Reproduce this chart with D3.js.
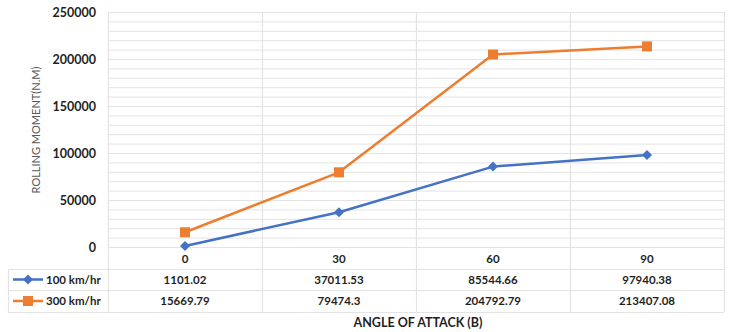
<!DOCTYPE html>
<html>
<head>
<meta charset="utf-8">
<script src="https://cdn.jsdelivr.net/npm/d3@7"></script>
<style>
  html, body { margin: 0; padding: 0; background: #fff; }
  svg { display: block; font-family: Lato, "Open Sans", sans-serif; }
</style>
</head>
<body>
<svg id="chart" width="729" height="332"></svg>
<script>
// Angle of attack categories and rolling moment series
const categories = ["0", "30", "60", "90"];
const seriesNames = ["100 km/hr", "300 km/hr"];
const speed100 = [1101.02, 37011.53, 85544.66, 97940.38];
const speed300 = [15669.79, 79474.3, 204792.79, 213407.08];
const yTicks = [0, 50000, 100000, 150000, 200000, 250000];
const colors = ["#4472C4", "#ED7D31"];
const valueLabels = [
  ["1101.02", "37011.53", "85544.66", "97940.38"],
  ["15669.79", "79474.3", "204792.79", "213407.08"]
];

const series = [
  { name: seriesNames[0], values: speed100, labels: valueLabels[0], color: colors[0], marker: "diamond" },
  { name: seriesNames[1], values: speed300, labels: valueLabels[1], color: colors[1], marker: "square" }
];

const svg = d3.select("#chart");
const plot = { left: 108, right: 724, top: 12, bottom: 247 };
const tableLeft = 8;
const rowLines = [269, 290, 312];
const gridColor = "#e3e3e3";

const x = d3.scaleBand().domain(categories).range([plot.left, plot.right]).padding(0);
const y = d3.scaleLinear().domain([0, 250000]).range([plot.bottom, plot.top]);

// Horizontal gridlines every 10000
const minor = d3.range(0, 250001, 10000);
svg.append("g").selectAll("line").data(minor).join("line")
  .attr("x1", plot.left).attr("x2", plot.right)
  .attr("y1", d => y(d) + 0.5).attr("y2", d => y(d) + 0.5)
  .attr("stroke", gridColor).attr("stroke-width", 1);

// Vertical category boundaries, running through the data table
const bounds = categories.map(c => x(c)).concat([plot.right]);
svg.append("g").selectAll("line").data(bounds).join("line")
  .attr("x1", d => d + 0.5).attr("x2", d => d + 0.5)
  .attr("y1", plot.top).attr("y2", rowLines[2])
  .attr("stroke", gridColor).attr("stroke-width", 1.2);

// Table rows
svg.append("g").selectAll("line").data(rowLines).join("line")
  .attr("x1", tableLeft).attr("x2", plot.right)
  .attr("y1", d => d + 0.5).attr("y2", d => d + 0.5)
  .attr("stroke", gridColor).attr("stroke-width", 1.2);
svg.append("line")
  .attr("x1", tableLeft + 0.5).attr("x2", tableLeft + 0.5)
  .attr("y1", rowLines[0]).attr("y2", rowLines[2])
  .attr("stroke", gridColor).attr("stroke-width", 1.2);

// Y axis tick labels
const yAxis = d3.axisLeft(y).tickValues(yTicks).tickSize(0).tickPadding(0).tickFormat(d3.format("d"));
const gy = svg.append("g").attr("transform", `translate(96,0)`).call(yAxis);
gy.select(".domain").remove();
gy.selectAll("text")
  .attr("fill", "#1f1f1f").attr("font-size", 12.5).attr("font-weight", 700)
  .attr("font-family", "Lato, sans-serif");

// Category labels in the first table row
const xAxis = d3.axisBottom(x).tickSize(0).tickPadding(0);
const gx = svg.append("g").attr("transform", `translate(0,${plot.bottom})`).call(xAxis);
gx.select(".domain").remove();
gx.selectAll("text")
  .attr("dy", 16).attr("fill", "#1f1f1f").attr("font-size", 11.5).attr("font-weight", 700)
  .attr("font-family", "Lato, sans-serif");

// Axis titles
svg.append("text")
  .attr("transform", `translate(40,130) rotate(-90)`)
  .attr("text-anchor", "middle")
  .attr("fill", "#595959").attr("font-size", 11)
  .text("ROLLING MOMENT(N.M)");
svg.append("text")
  .attr("x", 418).attr("y", 327)
  .attr("text-anchor", "middle")
  .attr("fill", "#1f1f1f").attr("font-size", 12.5).attr("font-weight", 700)
  .text("ANGLE OF ATTACK (B)");

const cx = c => x(c) + x.bandwidth() / 2;
const line = d3.line().x((d, i) => cx(categories[i])).y(d => y(d));

function drawMarker(g, type, color) {
  if (type === "diamond") {
    g.append("path").attr("d", "M0,-5L5,0L0,5L-5,0Z").attr("fill", color);
  } else {
    g.append("rect").attr("x", -5).attr("y", -5).attr("width", 10).attr("height", 10).attr("fill", color);
  }
}

series.forEach((s, si) => {
  svg.append("path").datum(s.values)
    .attr("d", line).attr("fill", "none")
    .attr("stroke", s.color).attr("stroke-width", 2.5).attr("stroke-linejoin", "round");
  s.values.forEach((v, i) => {
    const g = svg.append("g").attr("transform", `translate(${cx(categories[i])},${y(v)})`);
    drawMarker(g, s.marker, s.color);
  });

  // Table row: legend key and values
  const rowMid = (rowLines[si] + rowLines[si + 1]) / 2;
  svg.append("line")
    .attr("x1", 13).attr("x2", 43).attr("y1", rowMid).attr("y2", rowMid)
    .attr("stroke", s.color).attr("stroke-width", 2.5);
  drawMarker(svg.append("g").attr("transform", `translate(28,${rowMid})`), s.marker, s.color);
  svg.append("text")
    .attr("x", 46).attr("y", rowMid).attr("dy", "0.35em")
    .attr("fill", "#1f1f1f").attr("font-size", 11.5).attr("font-weight", 700)
    .text(s.name);
  svg.append("g").selectAll("text").data(s.labels).join("text")
    .attr("x", (d, i) => cx(categories[i])).attr("y", rowMid).attr("dy", "0.35em")
    .attr("text-anchor", "middle")
    .attr("fill", "#1f1f1f").attr("font-size", 11.5).attr("font-weight", 700)
    .text(d => d);
});
</script>
</body>
</html>
